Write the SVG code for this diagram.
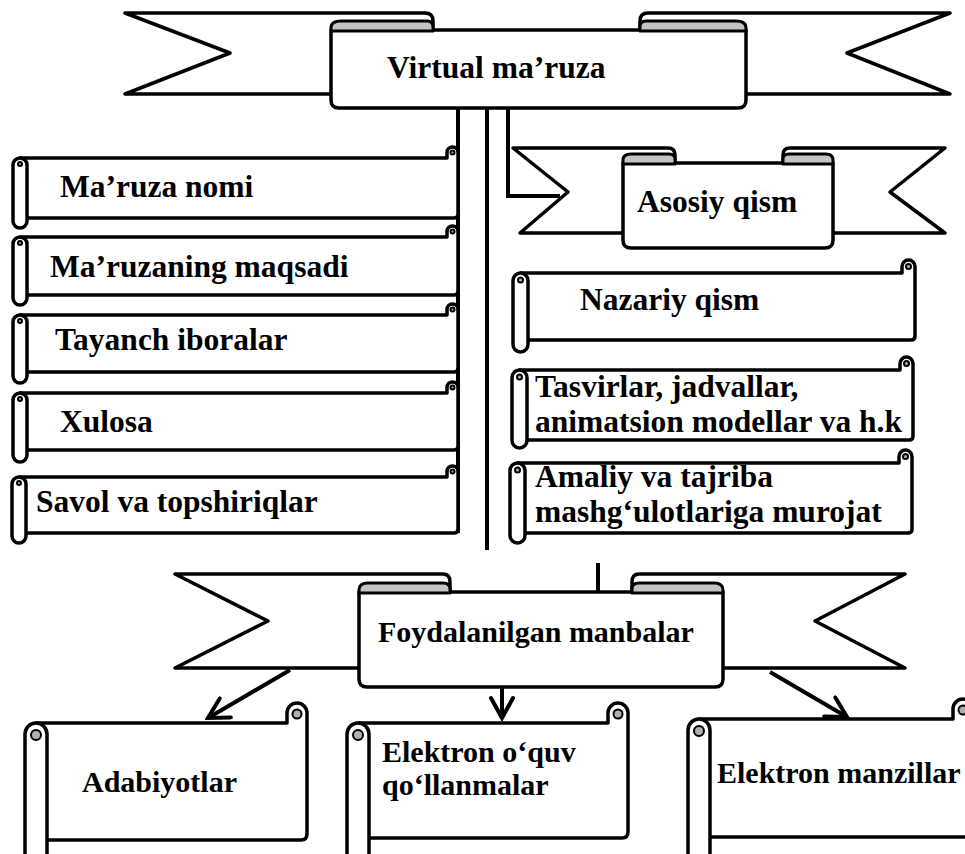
<svg xmlns="http://www.w3.org/2000/svg" width="965" height="854" viewBox="0 0 965 854">
<style>
.shp{fill:#fff;stroke:#000;stroke-width:3.5;stroke-linejoin:round}
.curl{fill:#c4c4c4;stroke:#000;stroke-width:3;stroke-linejoin:round}
.sp{fill:#b0b0b0;stroke:#000;stroke-width:2}
.ln{fill:none;stroke:#000;stroke-width:4}
.arr{fill:none;stroke:#000;stroke-width:4;marker-end:url(#ah)}
.t{font-family:"Liberation Serif","Times New Roman",serif;font-weight:bold;font-size:31.5px;fill:#000}
.s30{font-size:30px}
</style>
<defs>
<marker id="ah" viewBox="0 0 26 26" refX="23" refY="13" markerWidth="26" markerHeight="26" markerUnits="userSpaceOnUse" orient="auto">
<path d="M3,2 L23,13 L3,24" fill="none" stroke="#000" stroke-width="4" stroke-linecap="round" stroke-linejoin="miter"/>
</marker>
</defs>
<rect width="965" height="854" fill="#fff"/>

<g id="connectors">
<path class="ln" d="M458,108 V533"/>
<path class="ln" d="M487,108 V550"/>
<path class="ln" d="M508,108 V196 H560"/>
<path class="ln" d="M598,563 V592"/>
<path class="arr" d="M290,670 L208,718"/>
<path class="arr" d="M502,687 V718"/>
<path class="arr" d="M770,672 L847,717"/>
</g>

<g id="n-virtual">
<path class="shp" d="M125,13 H425 Q433,13 433,21 V94 H125 L230,53 Z"/>
<path class="shp" d="M950,13 H648 Q640,13 640,21 V94 H950 L847,53 Z"/>
<path class="shp" d="M331,30 V100 Q331,108 339,108 H738 Q746,108 746,100 V30 Z"/>
<path class="curl" d="M331,31 V28 Q331,21 341,21 H427 Q433,21 433,27 V31 Z"/>
<path class="curl" d="M640,31 V27 Q640,21 646,21 H736 Q746,21 746,28 V31 Z"/>
<text class="t" x="387" y="78">Virtual ma’ruza</text>
</g>

<g id="n-maruza-nomi">
<path class="shp" d="M20,158 H447 V152.5 A5.5,5.5 0 0 1 458,152.5 V214 Q458,218 454,218 H20 Z"/>
<rect class="shp" x="13" y="158" width="14" height="70" rx="7"/>
<circle class="sp" cx="452.5" cy="152.5" r="2"/>
<circle class="sp" cx="20" cy="164" r="2"/>
<text class="t" x="60" y="197">Ma’ruza nomi</text>
</g>

<g id="n-maqsadi">
<path class="shp" d="M20,237 H447 V231.5 A5.5,5.5 0 0 1 458,231.5 V291 Q458,295 454,295 H20 Z"/>
<rect class="shp" x="13" y="237" width="14" height="68" rx="7"/>
<circle class="sp" cx="452.5" cy="231.5" r="2"/>
<circle class="sp" cx="20" cy="243" r="2"/>
<text class="t" x="50" y="277">Ma’ruzaning maqsadi</text>
</g>

<g id="n-tayanch">
<path class="shp" d="M20,315 H447 V309.5 A5.5,5.5 0 0 1 458,309.5 V368 Q458,372 454,372 H20 Z"/>
<rect class="shp" x="13" y="315" width="14" height="68" rx="7"/>
<circle class="sp" cx="452.5" cy="309.5" r="2"/>
<circle class="sp" cx="20" cy="321" r="2"/>
<text class="t" x="55" y="350">Tayanch iboralar</text>
</g>

<g id="n-xulosa">
<path class="shp" d="M20,393 H447 V387.5 A5.5,5.5 0 0 1 458,387.5 V446 Q458,450 454,450 H20 Z"/>
<rect class="shp" x="13" y="393" width="14" height="69" rx="7"/>
<circle class="sp" cx="452.5" cy="387.5" r="2"/>
<circle class="sp" cx="20" cy="399" r="2"/>
<text class="t" x="60" y="432">Xulosa</text>
</g>

<g id="n-savol">
<path class="shp" d="M19,477 H447 V471.5 A5.5,5.5 0 0 1 458,471.5 V529 Q458,533 454,533 H19 Z"/>
<rect class="shp" x="12" y="477" width="14" height="66" rx="7"/>
<circle class="sp" cx="452.5" cy="471.5" r="2"/>
<circle class="sp" cx="19" cy="483" r="2"/>
<text class="t" x="36" y="512">Savol va topshiriqlar</text>
</g>

<g id="n-asosiy">
<path class="shp" d="M513,148 H668 Q675,148 675,155 V233 H520 L568,192 Z"/>
<path class="shp" d="M945,148 H790 Q783,148 783,155 V233 H945 L890,192 Z"/>
<path class="shp" d="M623,163 V240 Q623,248 631,248 H825 Q833,248 833,240 V163 Z"/>
<path class="curl" d="M623,164 V160 Q623,154 631,154 H669 Q675,154 675,159 V164 Z"/>
<path class="curl" d="M783,164 V159 Q783,154 789,154 H826 Q833,154 833,160 V164 Z"/>
<text class="t" x="637" y="212">Asosiy qism</text>
</g>

<g id="n-nazariy">
<path class="shp" d="M520.5,273 H902 V266.5 A6.5,6.5 0 0 1 915,266.5 V336 Q915,340 911,340 H520.5 Z"/>
<rect class="shp" x="513" y="273" width="15" height="79" rx="7.5"/>
<circle class="sp" cx="908.5" cy="266.5" r="2.5"/>
<circle class="sp" cx="520.5" cy="280" r="2.5"/>
<text class="t" x="580" y="310">Nazariy qism</text>
</g>

<g id="n-tasvirlar">
<path class="shp" d="M519.5,370 H900 V363.5 A6.5,6.5 0 0 1 913,363.5 V436 Q913,440 909,440 H519.5 Z"/>
<rect class="shp" x="512" y="370" width="15" height="78" rx="7.5"/>
<circle class="sp" cx="906.5" cy="363.5" r="2.5"/>
<circle class="sp" cx="519.5" cy="377" r="2.5"/>
<text class="t" x="535" y="397">Tasvirlar, jadvallar,</text>
<text class="t" x="535" y="432">animatsion modellar va h.k</text>
</g>

<g id="n-amaliy">
<path class="shp" d="M517.5,463 H899 V456.5 A6.5,6.5 0 0 1 912,456.5 V529 Q912,533 908,533 H517.5 Z"/>
<rect class="shp" x="510" y="463" width="15" height="80" rx="7.5"/>
<circle class="sp" cx="905.5" cy="456.5" r="2.5"/>
<circle class="sp" cx="517.5" cy="470" r="2.5"/>
<text class="t" x="535" y="487">Amaliy va tajriba</text>
<text class="t" x="535" y="522">mashg‘ulotlariga murojat</text>
</g>

<g id="n-foydalanilgan">
<path class="shp" d="M175,574 H443 Q450,574 450,582 V668 H175 L268,621 Z"/>
<path class="shp" d="M905,574 H639 Q632,574 632,582 V668 H905 L815,621 Z"/>
<path class="shp" d="M359,592 V679 Q359,687 367,687 H715 Q723,687 723,679 V592 Z"/>
<path class="curl" d="M359,593 V590 Q359,583 368,583 H443 Q450,583 450,589 V593 Z"/>
<path class="curl" d="M632,593 V589 Q632,583 639,583 H714 Q723,583 723,590 V593 Z"/>
<text class="t s30" x="378" y="642">Foydalanilgan manbalar</text>
</g>

<g id="n-adabiyotlar">
<path class="shp" d="M36,723 H287 V713 A10,10 0 0 1 307,713 V834 Q307,840 301,840 H36 Z"/>
<rect class="shp" x="25" y="723" width="22" height="150" rx="11"/>
<circle class="sp" cx="297" cy="714" r="4.5" stroke-width="2.5"/>
<circle class="sp" cx="36" cy="735" r="5" stroke-width="2.5"/>
<text class="t s30" x="82" y="792">Adabiyotlar</text>
</g>

<g id="n-elektron-quv">
<path class="shp" d="M358,723 H608 V713 A10,10 0 0 1 628,713 V832 Q628,838 622,838 H358 Z"/>
<rect class="shp" x="347" y="723" width="22" height="150" rx="11"/>
<circle class="sp" cx="618" cy="714" r="4.5" stroke-width="2.5"/>
<circle class="sp" cx="358" cy="735" r="5" stroke-width="2.5"/>
<text class="t s30" x="382" y="762">Elektron o‘quv</text>
<text class="t s30" x="382" y="795">qo‘llanmalar</text>
</g>

<g id="n-elektron-manzillar">
<path class="shp" d="M699,719 H953 V709 A10,10 0 0 1 973,709 V831 Q973,837 967,837 H699 Z"/>
<rect class="shp" x="688" y="719" width="22" height="150" rx="11"/>
<circle class="sp" cx="963" cy="710" r="4.5" stroke-width="2.5"/>
<circle class="sp" cx="699" cy="731" r="5" stroke-width="2.5"/>
<text class="t s30" x="717" y="783">Elektron manzillar</text>
</g>
</svg>
